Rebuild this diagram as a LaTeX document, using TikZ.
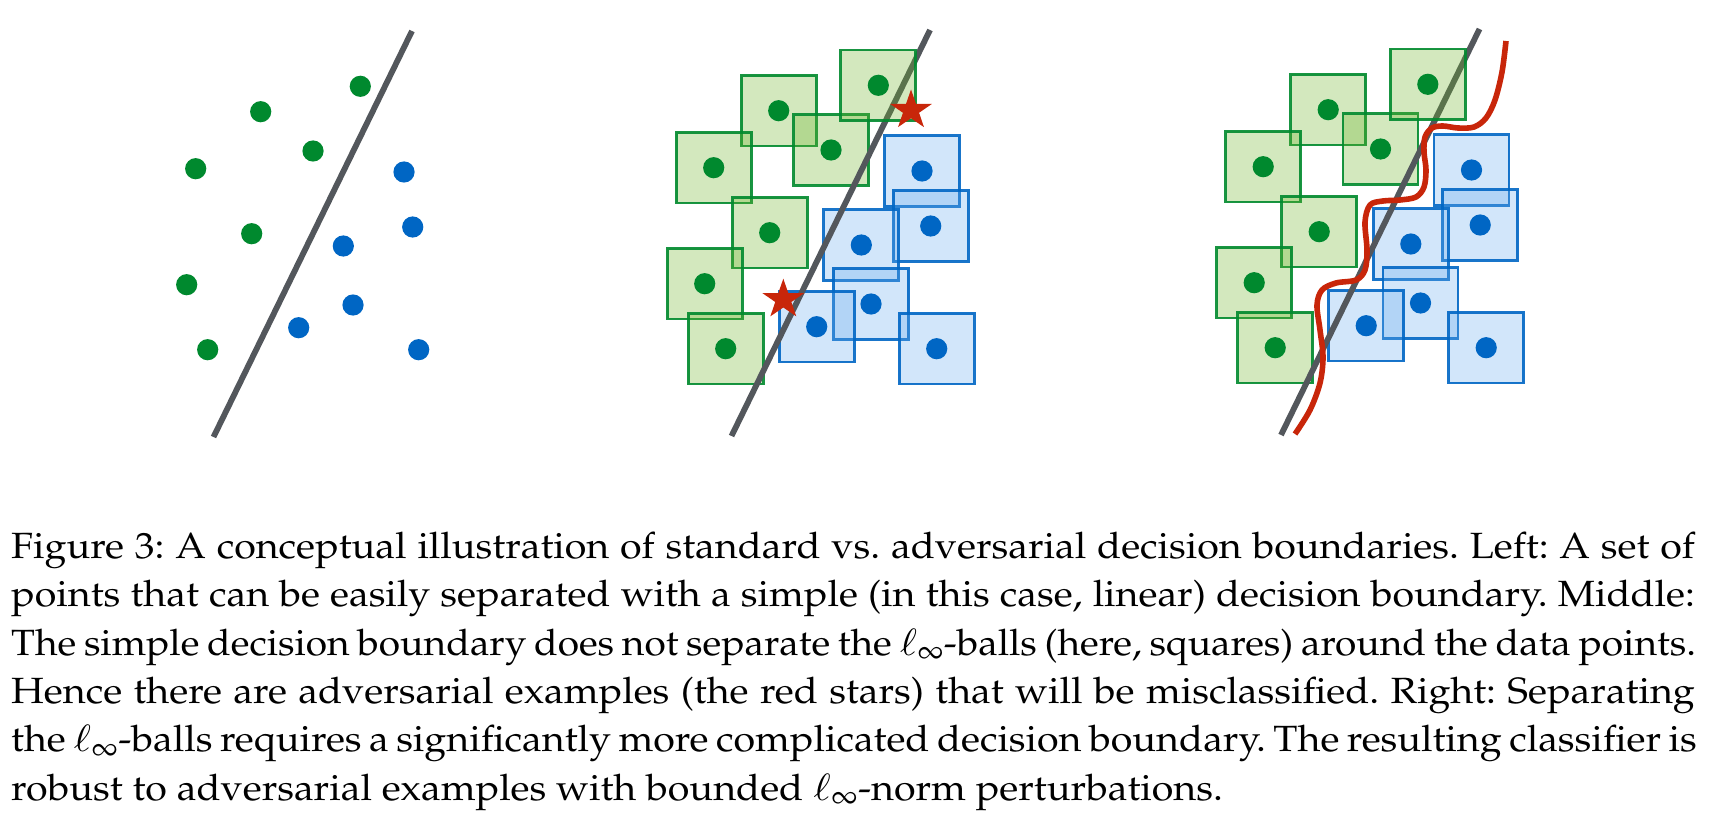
\documentclass[tikz,border=0pt]{standalone}
\usepackage[T1]{fontenc}
\usepackage{mathpazo}
\usepackage{graphicx}
\definecolor{dgreen}{RGB}{0,137,46}
\definecolor{lgreen}{RGB}{108,180,40}
\definecolor{dblue}{RGB}{0,102,196}
\definecolor{lblue}{RGB}{105,172,238}
\definecolor{bgray}{RGB}{83,87,92}
\definecolor{starred}{RGB}{200,38,10}
\frenchspacing
\newcommand{\capline}[1]{\scalebox{1.08}[1]{\makebox[1559pt][s]{#1}}}
\begin{document}
\begin{tikzpicture}[x=1pt,y=-1pt,
  gsq/.style={draw=dgreen, line width=2.9pt, fill=lgreen, fill opacity=0.3, draw opacity=0.9},
  bsq/.style={draw=dblue, line width=2.9pt, fill=lblue, fill opacity=0.3, draw opacity=0.9},
  gdot/.style={fill=dgreen},
  bdot/.style={fill=dblue},
  bline/.style={draw=bgray, line width=5.8pt},
  rcurve/.style={draw=starred, line width=5.6pt},
  advstar/.style={fill=starred},
  captext/.style={inner sep=0pt, anchor=base west, font=\fontsize{36.5}{48}\selectfont}]
\useasboundingbox (0,0) rectangle (1718,813);

% ---------- Left panel ----------
\draw[bline] (412,31) -- (213.5,437);
\foreach \x/\y in {360.3/86.3, 260.7/111.7, 313/151, 195.7/168.7, 251.7/233.7, 186.7/284.7, 207.7/349.7}
  \fill[gdot] (\x,\y) circle[radius=10.6pt];
\foreach \x/\y in {404/172, 412.7/227, 343.3/246, 353/305, 298.7/327.7, 418.7/349.7}
  \fill[bdot] (\x,\y) circle[radius=10.6pt];

% ---------- Middle and right panels ----------
\foreach \sx/\sy in {518/-1, 1067.5/-2}{
  \begin{scope}[shift={(\sx,\sy)}]
    \foreach \x/\y in {260.7/111.7, 313/151, 195.7/168.7, 251.7/233.7, 186.7/284.7, 207.7/349.7}{
      \draw[gsq] ({\x-37.5},{\y-35.3}) rectangle ({\x+37.5},{\y+35.3});
      \fill[gdot] (\x,\y) circle[radius=10.6pt];
    }
    \foreach \x/\y in {404/172, 412.7/227, 343.3/246, 353/305, 298.7/327.7, 418.7/349.7}{
      \draw[bsq] ({\x-37.5},{\y-35.3}) rectangle ({\x+37.5},{\y+35.3});
      \fill[bdot] (\x,\y) circle[radius=10.6pt];
    }
    \draw[bline] (412,31) -- (213.5,437);
    \draw[gsq] ({360.3-37.5},{86.3-35.3}) rectangle ({360.3+37.5},{86.3+35.3});
    \fill[gdot] (360.3,86.3) circle[radius=10.6pt];
  \end{scope}
}

% adversarial stars (middle panel)
\foreach \cx/\cy in {911/110.3, 783.3/299.5}
  \fill[advstar, shift={(\cx,\cy)}, xscale=1.06] (-90:20.8) -- (-54:8) -- (-18:20.8) -- (18:8) -- (54:20.8)
     -- (90:8) -- (126:20.8) -- (162:8) -- (198:20.8) -- (234:8) -- cycle;

% robust decision boundary (right panel)
\draw[rcurve] plot[smooth, tension=0.55] coordinates {
  (1506,41) (1502,72) (1495,100) (1486,118) (1474,127) (1458,128) (1443,126) (1432,128)
  (1425,137) (1424,152) (1426,170) (1424,187) (1416,197) (1400,200) (1383,201) (1370,205)
  (1365,222) (1367,250) (1365,270) (1356,280) (1336,283) (1322,290) (1317,305) (1320,330)
  (1323,357) (1320,383) (1310,410) (1295,434)};

% ---------- Caption ----------
\node[captext] (cap1) at (11,558.4) {\capline{Figure 3: A conceptual illustration of standard vs. adversarial decision boundaries. Left: A set of}};
\node[captext] (cap2) at (11,606.7) {\capline{points that can be easily separated with a simple (in this case, linear) decision boundary. Middle:}};
\node[captext] (cap3) at (11,655) {\scalebox{1.065}[1]{\makebox[1582pt][s]{The simple decision boundary does not separate the $\ell_\infty$-balls (here, squares) around the data points.}}};
\node[captext] (cap4) at (11,703.3) {\capline{Hence there are adversarial examples (the red stars) that will be misclassified. Right: Separating}};
\node[captext] (cap5) at (11,751.7) {\capline{the $\ell_\infty$-balls requires a significantly more complicated decision boundary. The resulting classifier is}};
\node[captext] (cap6) at (11,800) {\scalebox{1.08}[1]{robust to adversarial examples with bounded $\ell_\infty$-norm perturbations.}};
\end{tikzpicture}
\end{document}
